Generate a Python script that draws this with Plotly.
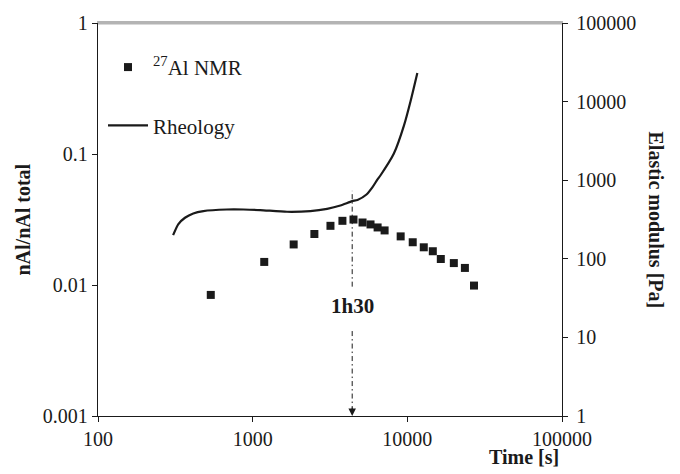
import math
import plotly.graph_objects as go

# --- data ---
NMR_T = [536, 1188, 1841, 2506, 3184, 3805, 4486, 5133, 5781, 6424, 7129,
         9055, 10835, 12773, 14613, 16460, 19980, 23560, 26970]
NMR_F = [0.0084, 0.0150, 0.0204, 0.0245, 0.0283, 0.0309, 0.0316, 0.0300,
         0.0290, 0.0275, 0.0261, 0.0235, 0.0212, 0.0194, 0.0181, 0.0158,
         0.0147, 0.0135, 0.0099]

RHEO_T = [306, 330, 365, 413, 480, 680, 872, 1119, 1667, 2361, 3029, 3693,
          4395, 4762, 5445, 5957, 6383, 6714, 8185, 9506, 10500, 11607]
RHEO_G = [200, 275, 333, 378, 405, 424, 424, 417, 397, 405, 432, 476,
          541, 561, 658, 817, 1009, 1156, 2183, 4946, 10190, 23170]

X_TICKS = [100, 1000, 10000, 100000]
X_TICKTEXT = ["100", "1000", "10000", "100000"]
Y_TICKS = [0.001, 0.01, 0.1, 1]
Y_TICKTEXT = ["0.001", "0.01", "0.1", "1"]
Y2_TICKS = [1, 10, 100, 1000, 10000, 100000]
Y2_TICKTEXT = ["1", "10", "100", "1000", "10000", "100000"]

MARK_T = 4400
MARK_LABEL = "1h30"

NMR_NAME = "<sup>27</sup>Al NMR"
RHEO_NAME = "Rheology"
X_TITLE = "Time [s]"
Y_TITLE = "nAl/nAl total"
Y2_TITLE = "Elastic modulus [Pa]"

FONT = "Liberation Serif"
INK = "#1a1a1a"
FRAME_GREY = "#b4b4b4"

W, H = 680, 474
ML, MR, MT, MB = 98, 118, 18, 58
PW, PH = W - ML - MR, H - MT - MB


def px_x(p):
    return (p - ML) / PW


def px_y(p):
    return (H - MB - p) / PH


fig = go.Figure()
fig.add_trace(go.Scatter(
    x=NMR_T, y=NMR_F, mode="markers", name=NMR_NAME,
    marker=dict(symbol="square", size=8, color=INK),
    yaxis="y", legend="legend"))
fig.add_trace(go.Scatter(
    x=RHEO_T, y=RHEO_G, mode="lines", name=RHEO_NAME,
    line=dict(color=INK, width=2.2, shape="spline", smoothing=0.6),
    yaxis="y2", legend="legend2"))

# dash-dot marker line at MARK_T (split around its label), on a fraction axis
dash = "5px,3px,1.5px,3px"
for y0, y1 in [(px_y(285), px_y(188)), (px_y(411), px_y(327))]:
    fig.add_trace(go.Scatter(
        x=[MARK_T, MARK_T], y=[y0, y1], mode="lines", showlegend=False,
        hoverinfo="skip", line=dict(color=INK, width=1, dash=dash),
        xaxis="x2", yaxis="y3"))

# light grey top frame of the plot area
fig.add_trace(go.Scatter(
    x=[X_TICKS[0], X_TICKS[-1]], y=[1, 1], mode="lines", showlegend=False,
    hoverinfo="skip", line=dict(color=FRAME_GREY, width=3),
    xaxis="x2", yaxis="y3"))

axis_common = dict(
    type="log", showgrid=False, zeroline=False, showline=True,
    linecolor=INK, linewidth=1.3, ticks="outside", ticklen=5,
    tickcolor=INK, tickwidth=1.3,
    tickfont=dict(family=FONT, size=20, color=INK))

fig.update_layout(
    width=W, height=H,
    margin=dict(l=ML, r=MR, t=MT, b=MB),
    paper_bgcolor="white", plot_bgcolor="white",
    font=dict(family=FONT, color=INK),
    xaxis=dict(range=[2, 5], tickvals=X_TICKS, ticktext=X_TICKTEXT, **axis_common),
    xaxis2=dict(type="log", range=[2, 5], overlaying="x", side="top",
                anchor="y3", showline=True, linecolor=FRAME_GREY, linewidth=1.5,
                showticklabels=False, ticks="", showgrid=False, zeroline=False),
    yaxis=dict(range=[-3, 0], tickvals=Y_TICKS, ticktext=Y_TICKTEXT, **axis_common),
    yaxis2=dict(range=[0, 5], tickvals=Y2_TICKS, ticktext=Y2_TICKTEXT,
                overlaying="y", side="right", ticklabelstandoff=4, **axis_common),
    yaxis3=dict(range=[0, 1], overlaying="y", visible=False, fixedrange=True),
    legend=dict(x=px_x(103), y=px_y(63), xanchor="left", yanchor="middle",
                itemwidth=40, bgcolor="rgba(0,0,0,0)",
                font=dict(family=FONT, size=21, color=INK)),
    legend2=dict(x=px_x(103), y=px_y(122), xanchor="left", yanchor="middle",
                 itemwidth=40, bgcolor="rgba(0,0,0,0)",
                 font=dict(family=FONT, size=21, color=INK)),
    showlegend=True,
)

xm = math.log10(MARK_T)
fig.add_annotation(x=xm, y=0, xref="x", yref="paper", text="", showarrow=True,
                   arrowhead=2, arrowsize=1.5, arrowwidth=1, arrowcolor=INK,
                   ax=0, ay=-10, standoff=0)
fig.add_annotation(x=xm, y=px_y(305), xref="x", yref="paper",
                   xanchor="center", yanchor="middle",
                   text="<b>" + MARK_LABEL + "</b>", showarrow=False,
                   font=dict(family=FONT, size=21, color=INK))

fig.add_annotation(x=px_x(524), y=px_y(458), xref="paper", yref="paper",
                   xanchor="center", yanchor="middle",
                   text="<b>" + X_TITLE + "</b>", showarrow=False,
                   font=dict(family=FONT, size=20, color=INK))
fig.add_annotation(x=px_x(22), y=px_y(217), xref="paper", yref="paper",
                   xanchor="center", yanchor="middle",
                   text="<b>" + Y_TITLE + "</b>", showarrow=False, textangle=-90,
                   font=dict(family=FONT, size=20, color=INK))
fig.add_annotation(x=px_x(656), y=px_y(217), xref="paper", yref="paper",
                   xanchor="center", yanchor="middle",
                   text="<b>" + Y2_TITLE + "</b>", showarrow=False, textangle=90,
                   font=dict(family=FONT, size=20, color=INK))

fig.write_html("out.html")
